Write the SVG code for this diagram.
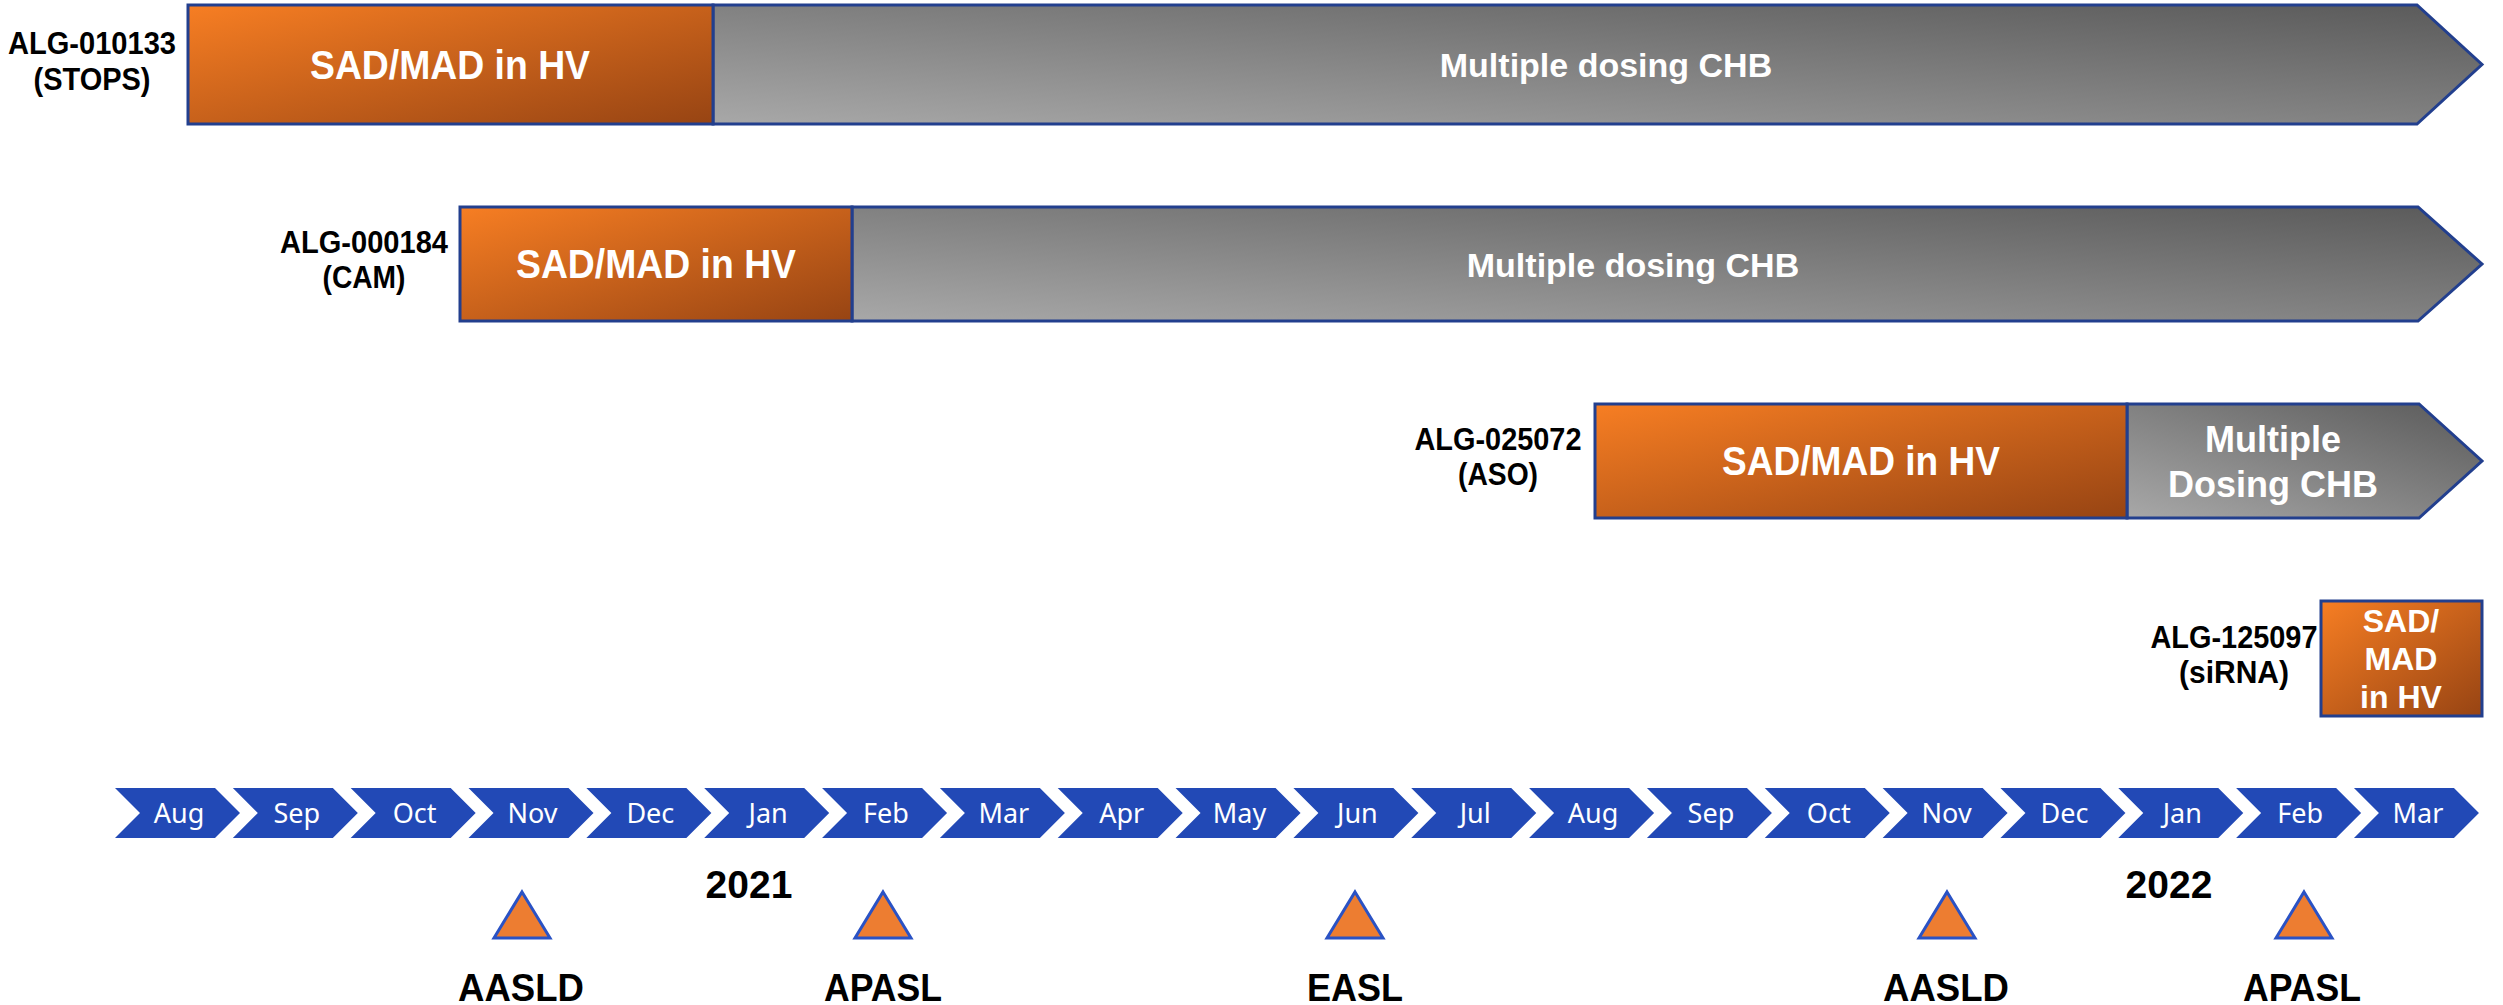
<svg xmlns="http://www.w3.org/2000/svg" width="2503" height="1005" viewBox="0 0 2503 1005">
<defs>
<linearGradient id="gOr" x1="0" y1="0" x2="1" y2="1">
<stop offset="0" stop-color="#F77E23"/>
<stop offset="1" stop-color="#974413"/>
</linearGradient>
<linearGradient id="gGr" x1="0" y1="1" x2="1" y2="0">
<stop offset="0" stop-color="#A8A8A8"/>
<stop offset="1" stop-color="#5A5A5A"/>
</linearGradient>
<style>
.or{fill:url(#gOr);stroke:#223F8E;stroke-width:3}
.gr{fill:url(#gGr);stroke:#223F8E;stroke-width:3}
.wt{font-family:"Liberation Sans",Arial,sans-serif;font-weight:bold;fill:#FFFFFF;text-anchor:middle}
.lb{font-family:"Liberation Sans",Arial,sans-serif;font-weight:bold;fill:#000000;text-anchor:middle;font-size:31px}
.cv{fill:#2249B6}
.mo{font-family:"Noto Sans","Open Sans",sans-serif;fill:#FFFFFF;font-size:27px;text-anchor:middle}
.tri{fill:#ED7D31;stroke:#2A52C4;stroke-width:3}
.cf{font-family:"Liberation Sans",Arial,sans-serif;font-weight:bold;fill:#000000;text-anchor:middle;font-size:39px}
.yr{font-family:"Liberation Sans",Arial,sans-serif;font-weight:bold;fill:#000000;text-anchor:middle;font-size:39px}
</style>
</defs>

<g id="row1">
<text class="lb" x="92" y="54" textLength="168" lengthAdjust="spacingAndGlyphs">ALG-010133</text>
<text class="lb" x="92" y="90" textLength="117" lengthAdjust="spacingAndGlyphs">(STOPS)</text>
<g id="row1-chb">
<polygon class="gr" points="713,5 2417,5 2482,64.5 2417,124 713,124"/>
<text class="wt" x="1606" y="77" font-size="34">Multiple dosing CHB</text>
</g>
<g id="row1-sad">
<rect class="or" x="188" y="5" width="525" height="119"/>
<text class="wt" x="450" y="79" font-size="40" textLength="280" lengthAdjust="spacingAndGlyphs">SAD/MAD in HV</text>
</g>
</g>

<g id="row2">
<text class="lb" x="364" y="253" textLength="168" lengthAdjust="spacingAndGlyphs">ALG-000184</text>
<text class="lb" x="364" y="288" textLength="83" lengthAdjust="spacingAndGlyphs">(CAM)</text>
<g id="row2-chb">
<polygon class="gr" points="852,207 2418,207 2482,264 2418,321 852,321"/>
<text class="wt" x="1633" y="277" font-size="34">Multiple dosing CHB</text>
</g>
<g id="row2-sad">
<rect class="or" x="460" y="207" width="392" height="114"/>
<text class="wt" x="656" y="278" font-size="40" textLength="280" lengthAdjust="spacingAndGlyphs">SAD/MAD in HV</text>
</g>
</g>

<g id="row3">
<text class="lb" x="1498" y="450" textLength="167" lengthAdjust="spacingAndGlyphs">ALG-025072</text>
<text class="lb" x="1498" y="485" textLength="80" lengthAdjust="spacingAndGlyphs">(ASO)</text>
<g id="row3-chb">
<polygon class="gr" points="2127,404 2419,404 2482,461 2419,518 2127,518"/>
<text class="wt" x="2273" y="452" font-size="36">Multiple</text>
<text class="wt" x="2273" y="497" font-size="36">Dosing CHB</text>
</g>
<g id="row3-sad">
<rect class="or" x="1595" y="404" width="532" height="114"/>
<text class="wt" x="1861" y="475" font-size="40" textLength="278" lengthAdjust="spacingAndGlyphs">SAD/MAD in HV</text>
</g>
</g>

<g id="row4">
<text class="lb" x="2234" y="648" textLength="167" lengthAdjust="spacingAndGlyphs">ALG-125097</text>
<text class="lb" x="2234" y="683" textLength="110" lengthAdjust="spacingAndGlyphs">(siRNA)</text>
<g id="row4-sad">
<rect class="or" x="2321" y="601" width="161" height="115"/>
<text class="wt" x="2401" y="632" font-size="32">SAD/</text>
<text class="wt" x="2401" y="670" font-size="32">MAD</text>
<text class="wt" x="2401" y="708" font-size="32">in HV</text>
</g>
</g>

<g id="timeline">
<g transform="translate(115,0)"><polygon class="cv" points="0,788 100,788 125,813 100,838 0,838 25,813"/><text class="mo" x="64" y="823">Aug</text></g>
<g transform="translate(232.84,0)"><polygon class="cv" points="0,788 100,788 125,813 100,838 0,838 25,813"/><text class="mo" x="64" y="823">Sep</text></g>
<g transform="translate(350.68,0)"><polygon class="cv" points="0,788 100,788 125,813 100,838 0,838 25,813"/><text class="mo" x="64" y="823">Oct</text></g>
<g transform="translate(468.52,0)"><polygon class="cv" points="0,788 100,788 125,813 100,838 0,838 25,813"/><text class="mo" x="64" y="823">Nov</text></g>
<g transform="translate(586.36,0)"><polygon class="cv" points="0,788 100,788 125,813 100,838 0,838 25,813"/><text class="mo" x="64" y="823">Dec</text></g>
<g transform="translate(704.2,0)"><polygon class="cv" points="0,788 100,788 125,813 100,838 0,838 25,813"/><text class="mo" x="64" y="823">Jan</text></g>
<g transform="translate(822.04,0)"><polygon class="cv" points="0,788 100,788 125,813 100,838 0,838 25,813"/><text class="mo" x="64" y="823">Feb</text></g>
<g transform="translate(939.88,0)"><polygon class="cv" points="0,788 100,788 125,813 100,838 0,838 25,813"/><text class="mo" x="64" y="823">Mar</text></g>
<g transform="translate(1057.72,0)"><polygon class="cv" points="0,788 100,788 125,813 100,838 0,838 25,813"/><text class="mo" x="64" y="823">Apr</text></g>
<g transform="translate(1175.56,0)"><polygon class="cv" points="0,788 100,788 125,813 100,838 0,838 25,813"/><text class="mo" x="64" y="823">May</text></g>
<g transform="translate(1293.4,0)"><polygon class="cv" points="0,788 100,788 125,813 100,838 0,838 25,813"/><text class="mo" x="64" y="823">Jun</text></g>
<g transform="translate(1411.24,0)"><polygon class="cv" points="0,788 100,788 125,813 100,838 0,838 25,813"/><text class="mo" x="64" y="823">Jul</text></g>
<g transform="translate(1529.08,0)"><polygon class="cv" points="0,788 100,788 125,813 100,838 0,838 25,813"/><text class="mo" x="64" y="823">Aug</text></g>
<g transform="translate(1646.92,0)"><polygon class="cv" points="0,788 100,788 125,813 100,838 0,838 25,813"/><text class="mo" x="64" y="823">Sep</text></g>
<g transform="translate(1764.76,0)"><polygon class="cv" points="0,788 100,788 125,813 100,838 0,838 25,813"/><text class="mo" x="64" y="823">Oct</text></g>
<g transform="translate(1882.6,0)"><polygon class="cv" points="0,788 100,788 125,813 100,838 0,838 25,813"/><text class="mo" x="64" y="823">Nov</text></g>
<g transform="translate(2000.44,0)"><polygon class="cv" points="0,788 100,788 125,813 100,838 0,838 25,813"/><text class="mo" x="64" y="823">Dec</text></g>
<g transform="translate(2118.28,0)"><polygon class="cv" points="0,788 100,788 125,813 100,838 0,838 25,813"/><text class="mo" x="64" y="823">Jan</text></g>
<g transform="translate(2236.12,0)"><polygon class="cv" points="0,788 100,788 125,813 100,838 0,838 25,813"/><text class="mo" x="64" y="823">Feb</text></g>
<g transform="translate(2353.96,0)"><polygon class="cv" points="0,788 100,788 125,813 100,838 0,838 25,813"/><text class="mo" x="64" y="823">Mar</text></g>
</g>

<g id="years">
<text class="yr" x="749" y="898">2021</text>
<text class="yr" x="2169" y="898">2022</text>
</g>

<g id="conferences">
<g id="conf-aasld-2020"><polygon class="tri" points="522,892 550,938 494,938"/><text class="cf" x="521" y="1001" textLength="126" lengthAdjust="spacingAndGlyphs">AASLD</text></g>
<g id="conf-apasl-2021"><polygon class="tri" points="883,892 911,938 855,938"/><text class="cf" x="883" y="1001" textLength="118" lengthAdjust="spacingAndGlyphs">APASL</text></g>
<g id="conf-easl-2021"><polygon class="tri" points="1355,892 1383,938 1327,938"/><text class="cf" x="1355" y="1001" textLength="96" lengthAdjust="spacingAndGlyphs">EASL</text></g>
<g id="conf-aasld-2021"><polygon class="tri" points="1947,892 1975,938 1919,938"/><text class="cf" x="1946" y="1001" textLength="126" lengthAdjust="spacingAndGlyphs">AASLD</text></g>
<g id="conf-apasl-2022"><polygon class="tri" points="2304,892 2332,938 2276,938"/><text class="cf" x="2302" y="1001" textLength="118" lengthAdjust="spacingAndGlyphs">APASL</text></g>
</g>

<g id="connectors"></g>
</svg>
